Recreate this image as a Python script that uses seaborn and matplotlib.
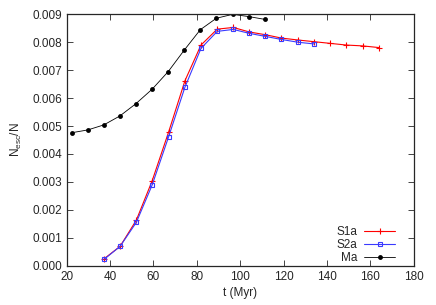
import seaborn as sns
import matplotlib.pyplot as plt
import pandas as pd

# values
t_s1a = [37.3, 44.6, 52.1, 59.4, 67.0, 74.5, 81.9, 89.4, 96.8, 104.1, 111.6, 119.0, 126.7, 134.1, 141.5, 148.9, 156.4, 163.9]
n_s1a = [0.00025, 0.00069, 0.00163, 0.00304, 0.00479, 0.00662, 0.00790, 0.00847, 0.00853, 0.00837, 0.00827, 0.00815, 0.00808, 0.00802, 0.00796, 0.00790, 0.00787, 0.00781]

t_s2a = [37.3, 44.6, 52.1, 59.4, 67.0, 74.5, 81.9, 89.4, 96.8, 104.1, 111.6, 119.0, 126.7, 134.1]
n_s2a = [0.00023, 0.00069, 0.00155, 0.00289, 0.00462, 0.00639, 0.00778, 0.00839, 0.00846, 0.00832, 0.00821, 0.00810, 0.00800, 0.00794]

t_ma = [22.3, 29.7, 37.1, 44.5, 51.9, 59.4, 66.8, 74.2, 81.6, 89.0, 96.5, 103.9, 111.3]
n_ma = [0.00476, 0.00486, 0.00504, 0.00536, 0.00580, 0.00632, 0.00695, 0.00772, 0.00845, 0.00886, 0.00900, 0.00892, 0.00882]

xticks = [20, 40, 60, 80, 100, 120, 140, 160, 180]
yticks = [0.000, 0.001, 0.002, 0.003, 0.004, 0.005, 0.006, 0.007, 0.008, 0.009]

sns.set_style("ticks")
plt.rcParams['font.family'] = ['Liberation Sans', 'DejaVu Sans']
plt.rcParams['mathtext.fontset'] = 'custom'
plt.rcParams['mathtext.rm'] = 'Liberation Sans'
plt.rcParams['mathtext.it'] = 'Liberation Sans'

fig = plt.figure(figsize=(4.36, 3.05), dpi=100)
ax = fig.add_axes([0.153, 0.129, 0.796, 0.824])

s1a = pd.DataFrame({'t': t_s1a, 'n': n_s1a})
s2a = pd.DataFrame({'t': t_s2a, 'n': n_s2a})
ma = pd.DataFrame({'t': t_ma, 'n': n_ma})

red = '#ff0000'
blue = '#3a3aff'
sns.lineplot(data=s1a, x='t', y='n', ax=ax, color=red, lw=0.8, marker='+',
             markersize=5, markeredgecolor=red, markeredgewidth=0.8,
             label='S1a', sort=False)
sns.lineplot(data=s2a, x='t', y='n', ax=ax, color=blue, lw=0.8, marker='s',
             markersize=3.3, markerfacecolor='none', markeredgecolor=blue,
             markeredgewidth=0.8, label='S2a', sort=False)
sns.lineplot(data=ma, x='t', y='n', ax=ax, color='black', lw=0.6, marker='o',
             markersize=3.5, markeredgecolor='black', markeredgewidth=0,
             label='Ma', sort=False)

ax.set_xlim(20, 180)
ax.set_ylim(0, 0.009)
ax.set_xticks(xticks)
ax.set_yticks(yticks)
ax.set_yticklabels([f'{v:.3f}' for v in yticks])
ax.tick_params(direction='in', top=True, right=True, labelsize=8.5, length=4, width=0.6)
for sp in ax.spines.values():
    sp.set_linewidth(0.9)

ax.set_xlabel('t (Myr)', fontsize=8.5, labelpad=3)
ax.set_ylabel('N$_{esc}$/N', fontsize=8.5, labelpad=6)

ax.legend(loc='lower right', frameon=False, markerfirst=False, fontsize=8.5,
          handlelength=2.6, handletextpad=0.6, labelspacing=0.05,
          borderaxespad=0.3, bbox_to_anchor=(0.97, -0.025))

fig.savefig('out.png', dpi=100)
